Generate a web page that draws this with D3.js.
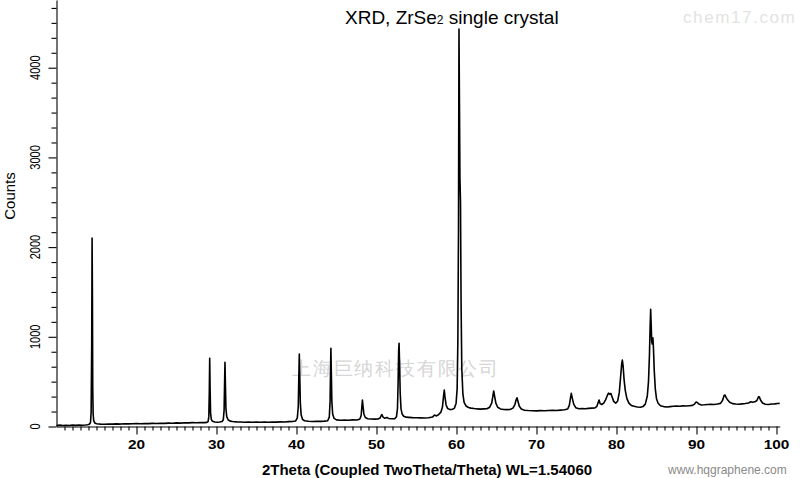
<!DOCTYPE html>
<html><head><meta charset="utf-8">
<script src="https://cdn.jsdelivr.net/npm/d3@7"></script>
<style>
html,body{margin:0;padding:0;background:#fff;}
svg{display:block;}
text{font-family:"Liberation Sans",Arial,sans-serif;}
</style></head>
<body>
<svg id="c" width="800" height="478"></svg>
<script>
// ---- data: [2theta (deg), counts] ----
const scan10to30 = [[10.0,12],[10.4,15],[10.8,11],[11.2,14],[11.6,12],[12.0,16],[12.4,13],[12.8,15],[13.2,14],[13.6,17],[13.9,20],[14.1,26],[14.25,45],[14.33,160],[14.4,900],[14.45,2100],[14.49,1450],[14.53,420],[14.58,140],[14.65,65],[14.8,38],[15.0,30],[15.5,27],[16.0,25],[16.5,28],[17.0,26],[17.5,29],[18.0,27],[18.5,31],[19.0,29],[19.5,30],[20.0,32],[20.5,30],[21.0,34],[21.5,32],[22.0,35],[22.5,33],[23.0,37],[23.5,35],[24.0,38],[24.5,36],[25.0,40],[25.5,38],[26.0,42],[26.5,40],[27.0,43],[27.5,41],[28.0,45],[28.5,43],[28.8,46],[28.95,55],[29.04,110],[29.1,380],[29.15,760],[29.2,420],[29.26,150],[29.35,80],[29.5,58],[29.8,50]];
const scan30to50 = [[30.1,48],[30.4,50],[30.7,55],[30.85,75],[30.95,180],[31.01,480],[31.06,715],[31.11,480],[31.18,200],[31.28,110],[31.45,75],[31.7,60],[32.0,55],[32.5,52],[33.0,50],[33.5,48],[34.0,50],[34.5,47],[35.0,49],[35.5,47],[36.0,50],[36.5,48],[37.0,51],[37.5,49],[38.0,52],[38.5,51],[39.0,54],[39.5,56],[39.9,62],[40.1,95],[40.22,220],[40.29,550],[40.35,808],[40.41,560],[40.48,260],[40.58,130],[40.75,80],[41.0,64],[41.5,58],[42.0,56],[42.5,58],[43.0,57],[43.5,60],[43.9,64],[44.1,105],[44.2,280],[44.26,650],[44.3,872],[44.35,620],[44.42,280],[44.52,140],[44.7,90],[45.0,74],[45.5,70],[46.0,72],[46.5,70],[47.0,74],[47.5,73],[47.9,80],[48.08,120],[48.17,220],[48.24,295],[48.31,230],[48.42,140],[48.6,100],[48.9,86],[49.3,84],[49.8,82]];
const scan50to70 = [[50.2,84],[50.45,95],[50.6,125],[50.68,132],[50.8,108],[51.0,92],[51.3,100],[51.5,90],[51.9,86],[52.3,88],[52.5,110],[52.62,200],[52.7,480],[52.77,850],[52.82,927],[52.88,720],[52.96,380],[53.06,200],[53.2,140],[53.4,115],[53.7,104],[54.0,102],[54.5,99],[55.0,97],[55.5,96],[56.0,94],[56.5,97],[57.0,105],[57.25,128],[57.45,118],[57.75,130],[58.05,160],[58.25,220],[58.38,340],[58.47,407],[58.56,330],[58.7,240],[58.9,200],[59.2,188],[59.5,192],[59.75,205],[59.95,260],[60.08,420],[60.17,950],[60.25,2200],[60.31,4430],[60.37,3600],[60.43,2770],[60.5,2500],[60.57,1400],[60.66,650],[60.8,360],[60.95,270],[61.2,228],[61.5,212],[61.8,205],[62.2,200],[62.6,196],[63.0,194],[63.4,196],[63.8,198],[64.15,215],[64.4,260],[64.55,340],[64.65,396],[64.75,345],[64.92,260],[65.15,215],[65.5,196],[65.9,190],[66.3,188],[66.7,190],[67.05,205],[67.3,245],[67.45,295],[67.56,321],[67.67,285],[67.85,225],[68.1,195],[68.5,182],[69.0,178],[69.5,176]];
const scan70to100 = [[70.0,174],[70.5,177],[71.0,175],[71.5,178],[72.0,180],[72.5,178],[73.0,183],[73.5,186],[73.9,195],[74.1,235],[74.25,320],[74.35,370],[74.45,325],[74.65,250],[74.9,210],[75.3,198],[75.7,200],[76.1,198],[76.5,202],[76.9,205],[77.3,208],[77.55,225],[77.72,270],[77.82,295],[77.95,255],[78.15,245],[78.4,260],[78.65,300],[78.85,345],[79.0,372],[79.15,360],[79.3,368],[79.45,330],[79.65,280],[79.9,260],[80.15,285],[80.35,380],[80.52,560],[80.65,700],[80.73,741],[80.82,680],[80.95,520],[81.1,400],[81.3,310],[81.55,260],[81.85,235],[82.2,225],[82.6,218],[83.0,215],[83.3,222],[83.6,250],[83.85,340],[84.0,500],[84.12,800],[84.2,1100],[84.27,1306],[84.33,1150],[84.4,950],[84.47,920],[84.55,990],[84.62,870],[84.72,620],[84.85,420],[85.0,310],[85.2,260],[85.5,232],[85.9,222],[86.3,218],[86.7,222],[87.1,226],[87.5,228],[87.9,226],[88.3,230],[88.7,228],[89.1,232],[89.5,236],[89.75,250],[89.95,272],[90.1,268],[90.3,250],[90.6,240],[91.0,242],[91.4,245],[91.8,248],[92.2,246],[92.6,250],[93.0,258],[93.25,290],[93.45,345],[93.56,351],[93.7,325],[93.9,295],[94.15,270],[94.5,255],[94.9,250],[95.3,248],[95.7,252],[96.1,256],[96.5,262],[96.8,275],[97.0,270],[97.3,275],[97.55,290],[97.75,330],[97.85,332],[98.0,295],[98.25,262],[98.6,248],[99.0,245],[99.4,250],[99.8,252],[100.1,256],[100.4,258]];

const xMajorTicks = [20,30,40,50,60,70,80,90,100];
const yMajorTicks = [0,1000,2000,3000,4000];
const titleMain = "XRD, ZrSe";
const titleSub = "2";
const titleRest = " single crystal";
const xTitle = "2Theta (Coupled TwoTheta/Theta) WL=1.54060";
const yTitle = "Counts";

const scan = [].concat(scan10to30, scan30to50, scan50to70, scan70to100);

const svg = d3.select("#c");
const x = d3.scaleLinear().domain([10, 100.4]).range([56.5, 779.7]);
const y = d3.scaleLinear().domain([0, 4755]).range([426.5, 0]);

// watermarks
svg.append("text").attr("x",683).attr("y",23).attr("font-size",17).attr("letter-spacing",1.6)
  .attr("fill","#e3e3e3").text("chem17.com");
svg.append("text").attr("x",292).attr("y",375).attr("font-size",19).attr("letter-spacing",1.8)
  .attr("fill","#d6d6d6").attr("font-family","'Noto Sans CJK SC',sans-serif").text("上海巨纳科技有限公司");
svg.append("text").attr("x",668).attr("y",474).attr("font-size",12)
  .attr("fill","#8a8a8a").text("www.hqgraphene.com");

// x axis
const xMinor = d3.range(11, 101, 1).filter(v => v % 10 !== 0);
const gx = svg.append("g").attr("transform","translate(0,426.5)");
gx.call(d3.axisBottom(x).tickValues(xMinor).tickSize(4).tickSizeOuter(0).tickFormat(""));
gx.append("g").call(d3.axisBottom(x).tickValues(xMajorTicks).tickSize(8).tickSizeOuter(0).tickFormat(""))
  .select(".domain").remove();
gx.selectAll("line,path").attr("stroke","#000").attr("stroke-width",1.1);
xMajorTicks.forEach(v=>{
  svg.append("text").attr("transform",`translate(${x(v)},448.5) scale(1.28,1)`)
    .attr("text-anchor","middle").attr("font-size",12).attr("font-weight","bold").text(v);
});

// y axis
const yMinor = d3.range(0, 4755, 1000/6).filter(v => Math.abs(v/1000 - Math.round(v/1000)) > 1e-6);
const gy = svg.append("g").attr("transform","translate(56.5,0)");
gy.call(d3.axisLeft(y).tickValues(yMinor).tickSize(5).tickSizeOuter(0).tickFormat(""));
gy.append("g").call(d3.axisLeft(y).tickValues(yMajorTicks).tickSize(8).tickSizeOuter(0).tickFormat(""))
  .select(".domain").remove();
gy.selectAll("line,path").attr("stroke","#000").attr("stroke-width",1.1);
yMajorTicks.forEach(v=>{
  svg.append("text").attr("transform",`translate(39.5,${y(v)}) rotate(-90) scale(1,1.35)`)
    .attr("text-anchor","middle").attr("font-size",11).text(v);
});

// titles
svg.append("text").attr("transform","translate(15,196) rotate(-90)").attr("text-anchor","middle")
  .attr("font-size",15).text(yTitle);
svg.append("text").attr("x",427).attr("y",474.5).attr("text-anchor","middle")
  .attr("font-size",15).attr("font-weight","bold").text(xTitle);
const t = svg.append("text").attr("x",345).attr("y",24).attr("font-size",19);
t.append("tspan").text(titleMain);
t.append("tspan").attr("font-size",12).text(titleSub);
t.append("tspan").text(titleRest);

// scan line
svg.append("path").datum(scan)
  .attr("d", d3.line().x(d=>x(d[0])).y(d=>y(d[1])))
  .attr("fill","none").attr("stroke","#000").attr("stroke-width",1.6).attr("stroke-linejoin","round");
</script>
</body></html>
